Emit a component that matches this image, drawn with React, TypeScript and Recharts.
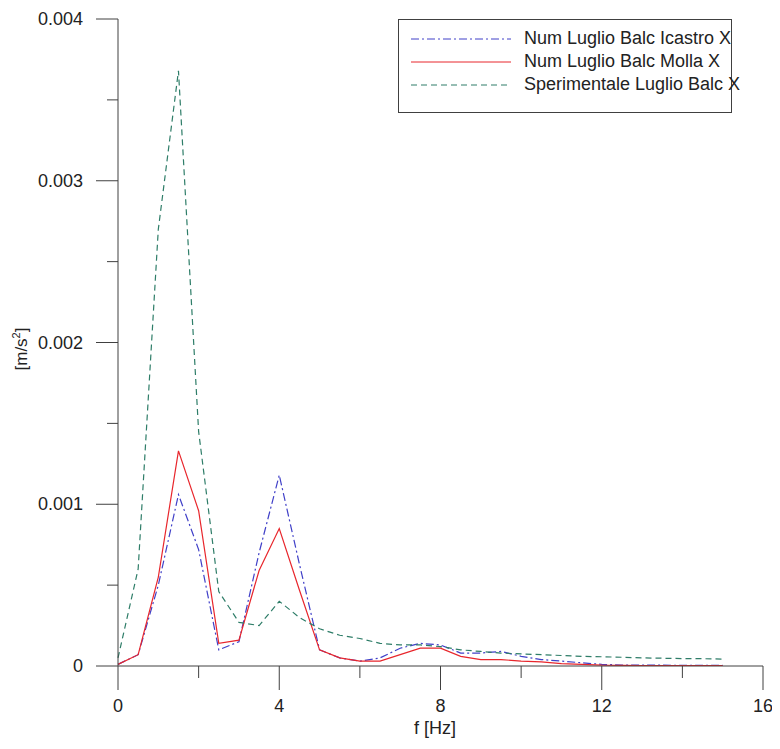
import React from "react";
import { LineChart, Line, XAxis, YAxis, Legend } from "recharts";

// frequency axis [Hz]
const freq = [
  0, 0.5, 1, 1.5, 2, 2.5, 3, 3.5, 4, 4.5, 5, 5.5, 6, 6.5, 7, 7.5, 8, 8.5, 9,
  9.5, 10, 10.5, 11, 11.5, 12, 12.5, 13, 13.5, 14, 14.5, 15,
];

// [m/s2]
const icastro = [
  0.00001, 0.00007, 0.0005, 0.00106, 0.00072, 0.0001, 0.00015, 0.0007, 0.00118,
  0.00063, 0.0001, 0.00005, 0.00003, 0.00005, 0.00011, 0.00014, 0.00013,
  0.00008, 0.00008, 0.00009, 0.00006, 0.00004, 0.00003, 0.00002, 0.00001,
  0.000006, 0.000005, 0.000005, 0.000004, 0.000004, 0.000004,
];
const molla = [
  0.00001, 0.00007, 0.00055, 0.00133, 0.00096, 0.00014, 0.00016, 0.00059,
  0.00085, 0.00047, 0.0001, 0.00005, 0.00003, 0.00003, 0.00007, 0.00011,
  0.00011, 0.00006, 0.00004, 0.00004, 0.00003, 0.000025, 0.000015, 0.00001,
  0.000005, 0.000004, 0.000003, 0.000003, 0.000003, 0.000003, 0.000003,
];
const sperimentale = [
  0.00005, 0.0006, 0.0027, 0.00368, 0.00145, 0.00046, 0.00027, 0.00025, 0.0004,
  0.0003, 0.00023, 0.00019, 0.00017, 0.00014, 0.00013, 0.00013, 0.00012, 0.0001,
  0.00009, 0.00008, 0.000075, 0.00007, 0.000065, 0.00006, 0.000057, 0.000054,
  0.00005, 0.000048, 0.000046, 0.000045, 0.000043,
];

const xTicks = [0, 2, 4, 6, 8, 10, 12, 14, 16];
const yTicks = [0, 0.0005, 0.001, 0.0015, 0.002, 0.0025, 0.003, 0.0035, 0.004];

const seriesNames = [
  "Num Luglio Balc Icastro X",
  "Num Luglio Balc Molla X",
  "Sperimentale Luglio Balc X",
];

const data = freq.map((f, i) => ({
  f,
  icastro: icastro[i],
  molla: molla[i],
  sperimentale: sperimentale[i],
}));

const FONT = "'Liberation Sans', Arial, sans-serif";
const AXIS = "#404040";

const styles = [
  { color: "#4040c8", dash: "8 3 2 3" },
  { color: "#e8262c", dash: undefined },
  { color: "#2e7d68", dash: "6 4" },
];

function XTick(props: any) {
  const { x, y, payload } = props;
  const major = payload.value % 4 === 0;
  return (
    <g>
      <line x1={x} x2={x} y1={y} y2={y + (major ? 24 : 12)} stroke={AXIS} />
      {major && (
        <text
          x={x}
          y={y + 40}
          textAnchor="middle"
          dominantBaseline="central"
          fontSize={18}
          fontFamily={FONT}
          fill="#222"
        >
          {payload.value}
        </text>
      )}
    </g>
  );
}

function YTick(props: any) {
  const { x, y, payload } = props;
  const major = Math.round(payload.value * 10000) % 10 === 0;
  return (
    <g>
      <line x1={x - (major ? 22 : 11)} x2={x} y1={y} y2={y} stroke={AXIS} />
      {major && (
        <text
          x={x - 35}
          y={y}
          textAnchor="end"
          dominantBaseline="central"
          fontSize={18}
          fontFamily={FONT}
          fill="#222"
        >
          {payload.value === 0 ? "0" : payload.value.toFixed(3)}
        </text>
      )}
    </g>
  );
}

function LegendBox() {
  return (
    <div
      style={{
        border: `1px solid ${AXIS}`,
        background: "#fff",
        width: 332,
        height: 85,
        boxSizing: "content-box",
        fontFamily: FONT,
        fontSize: 18,
        color: "#222",
        paddingTop: 7,
      }}
    >
      {seriesNames.map((name, i) => (
        <div
          key={name}
          style={{ display: "flex", alignItems: "center", height: 23 }}
        >
          <svg width={125} height={10} style={{ flex: "none" }}>
            <line
              x1={12}
              x2={112}
              y1={5}
              y2={5}
              stroke={styles[i].color}
              strokeDasharray={styles[i].dash}
            />
          </svg>
          <span style={{ whiteSpace: "nowrap" }}>{name}</span>
        </div>
      ))}
    </div>
  );
}

export default function App() {
  return (
    <LineChart
      width={772}
      height={741}
      data={data}
      margin={{ top: 11, right: 17, left: 0, bottom: 0 }}
    >
      <XAxis
        dataKey="f"
        type="number"
        domain={[0, 16]}
        ticks={xTicks}
        interval={0}
        height={83}
        tickSize={0}
        tickMargin={0}
        tickLine={false}
        stroke={AXIS}
        tick={<XTick />}
        label={{
          content: () => (
            <text
              x={427}
              y={720}
              textAnchor="middle"
              dominantBaseline="central"
              fontSize={18}
              fontFamily={FONT}
              fill="#222"
            >
              f [Hz]
            </text>
          ),
        }}
      />
      <YAxis
        type="number"
        domain={[0, 0.004]}
        ticks={yTicks}
        interval={0}
        width={110}
        tickSize={0}
        tickMargin={0}
        tickLine={false}
        stroke={AXIS}
        tick={<YTick />}
        label={{
          content: () => (
            <text
              x={13}
              y={341}
              transform="rotate(-90 13 341)"
              textAnchor="middle"
              dominantBaseline="central"
              fontSize={17}
              fontFamily={FONT}
              fill="#222"
            >
              [m/s<tspan fontSize={11} dy={-5}>2</tspan>
              <tspan dy={5}>]</tspan>
            </text>
          ),
        }}
      />
      <Legend
        layout="vertical"
        align="center"
        verticalAlign="middle"
        wrapperStyle={{ left: 390, top: 11, width: 334 }}
        content={() => <LegendBox />}
      />
      <Line
        dataKey="icastro"
        name={seriesNames[0]}
        stroke={styles[0].color}
        strokeDasharray={styles[0].dash}
        strokeWidth={1.2}
        dot={false}
        isAnimationActive={false}
      />
      <Line
        dataKey="molla"
        name={seriesNames[1]}
        stroke={styles[1].color}
        strokeWidth={1.2}
        dot={false}
        isAnimationActive={false}
      />
      <Line
        dataKey="sperimentale"
        name={seriesNames[2]}
        stroke={styles[2].color}
        strokeDasharray={styles[2].dash}
        strokeWidth={1.2}
        dot={false}
        isAnimationActive={false}
      />
    </LineChart>
  );
}
